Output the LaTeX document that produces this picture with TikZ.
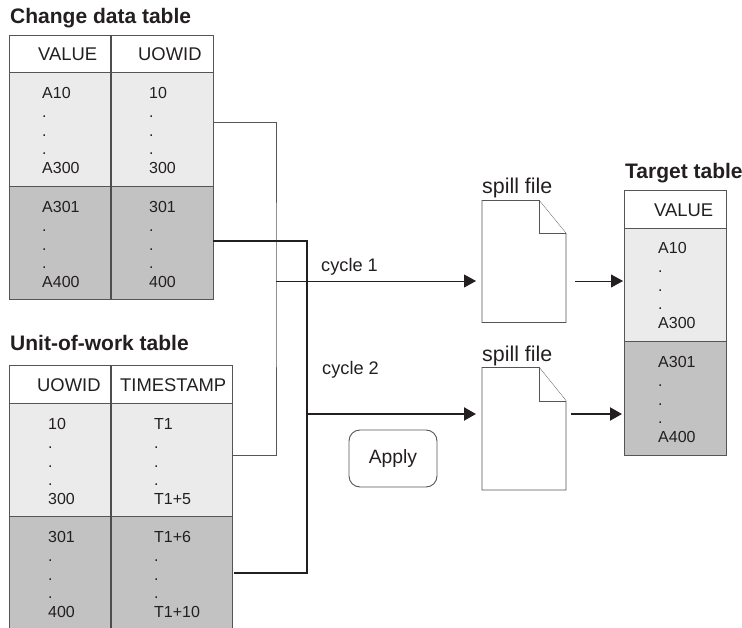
\documentclass[tikz,border=0pt]{standalone}
\usepackage{fontspec}
\setmainfont{Liberation Sans}
\usetikzlibrary{arrows.meta,calc}
\definecolor{lightrow}{HTML}{EBEBEB}
\definecolor{darkrow}{HTML}{C2C2C2}
\definecolor{ink}{HTML}{231F20}
\definecolor{edge}{HTML}{555555}
\tikzset{
  x=1pt,y=-1pt,
  title/.style={font=\fontsize{21}{23}\selectfont\bfseries,text=ink,anchor=base west,inner sep=0,yshift=-0.8pt},
  head/.style={font=\fontsize{18.4}{20}\selectfont,text=ink,anchor=base west,inner sep=0,yshift=-0.8pt},
  data/.style={font=\fontsize{16}{18}\selectfont,text=ink,anchor=base west,inner sep=0,yshift=-0.6pt},
  label/.style={font=\fontsize{18.2}{20}\selectfont,text=ink,anchor=base west,inner sep=0},
  spilllabel/.style={font=\fontsize{21.4}{23}\selectfont,text=ink,anchor=base west,inner sep=0,yshift=-0.8pt},
  thinline/.style={draw=edge,line width=1pt},
  thickline/.style={draw=ink,line width=2.6pt},
  thintip/.style={draw=ink,line width=0.9pt,-{Triangle[length=12pt,width=13pt]}},
  thicktip/.style={draw=ink,line width=2.2pt,-{Triangle[length=12pt,width=13pt]}},
  sheet/.style={draw=edge,line width=0.9pt,fill=white,line join=miter},
}
% \colcells{x}{y of first line}{first}{last}
\newcommand{\colcells}[4]{%
  \node[data] at (#1,#2) {#3};
  \node[data] at (#1,#2+19) {.};
  \node[data] at (#1,#2+37.5) {.};
  \node[data] at (#1,#2+56) {.};
  \node[data] at (#1,#2+75) {#4};
}
\begin{document}
\begin{tikzpicture}
\useasboundingbox (0,0) rectangle (742,628);
% Change data table
\node[title] (t1) at (10,23) {Change data table};
\path[fill=lightrow] (9,72) rectangle (213,186);
\path[fill=darkrow] (9,186) rectangle (213,299);
\draw[draw=edge,line width=0.9pt] (9,35) rectangle (213,299);
\draw[draw=edge,line width=0.9pt] (9,72) -- (213,72) (9,186) -- (213,186);
\draw[draw=ink!80!white,line width=1.1pt] (111,35) -- (111,299);
\node[head] at (38,60) {VALUE};
\node[head] at (138,60) {UOWID};
\colcells{42}{98}{A10}{A300}
\colcells{149}{98}{10}{300}
\colcells{42}{212}{A301}{A400}
\colcells{149}{212}{301}{400}
\coordinate (c1a) at (213,123);
\coordinate (c1b) at (213,241);
% Unit-of-work table
\node[title] (t2) at (10,350) {Unit-of-work table};
\path[fill=lightrow] (9,403) rectangle (232,516);
\path[fill=darkrow] (9,516) rectangle (232,628);
\draw[draw=edge,line width=0.9pt] (9,628) -- (9,365.5) -- (232,365.5) -- (232,628);
\draw[draw=edge,line width=0.9pt] (9,403) -- (232,403) (9,516) -- (232,516);
\draw[draw=ink!80!white,line width=1.1pt] (111,365) -- (111,628);
\node[head] at (37,391) {UOWID};
\node[head] at (120,391) {TIMESTAMP};
\colcells{48}{429}{10}{300}
\colcells{154}{429}{T1}{T1+5}
\colcells{48}{542}{301}{400}
\colcells{154}{542}{T1+6}{T1+10}
\coordinate (c2a) at (232,455);
\coordinate (c2b) at (234,573);
% Target table
\node[title] (t3) at (625,178) {Target table};
\path[fill=lightrow] (624,228) rectangle (726,341);
\path[fill=darkrow] (624,341) rectangle (726,455);
\draw[draw=edge,line width=0.9pt] (624,190.5) rectangle (726,455);
\draw[draw=edge,line width=0.9pt] (624,228) -- (726,228) (624,341) -- (726,341);
\node[head] at (654,216) {VALUE};
\colcells{658}{253}{A10}{A300}
\colcells{658}{367}{A301}{A400}
% Spill files
\draw[sheet] (482,200.5) -- (539,200.5) -- (566,233.5) -- (566,322.5) -- (482,322.5) -- cycle;
\draw[sheet] (539,200.5) -- (539,233.5) -- (566,233.5);
\draw[sheet] (482,367.5) -- (539,367.5) -- (566,401) -- (566,490) -- (482,490) -- cycle;
\draw[sheet] (539,367.5) -- (539,401) -- (566,401);
\node[spilllabel] (s1) at (482,193) {spill file};
\node[spilllabel] (s2) at (482,361) {spill file};
\coordinate (s1in) at (476,281);
\coordinate (s1out) at (575,281);
\coordinate (s2in) at (476,414);
\coordinate (s2out) at (571,414);
\coordinate (tt1) at (623,281);
\coordinate (tt2) at (622,414);
% Connectors
\coordinate (j1) at (276,281);
\coordinate (j2) at (307,414);
\draw[thinline] (c1a) -| (j1) |- (c2a);
\draw[thintip] (j1) -- (s1in);
\draw[thickline,line join=miter] (c1b) -| (j2) |- (c2b);
\draw[thicktip] (j2) -- (s2in);
\draw[thintip] (s1out) -- (tt1);
\draw[thicktip] (s2out) -- (tt2);
\node[label] (cy1) at (321,271.5) {cycle 1};
\node[label] (cy2) at (322,374) {cycle 2};
\node[draw=edge,line width=0.9pt,rounded corners=11pt,minimum width=88pt,minimum height=57pt,inner sep=0,font=\fontsize{19.3}{21}\selectfont,text=ink] (apply) at (393,458.5) {Apply};
\end{tikzpicture}
\end{document}
